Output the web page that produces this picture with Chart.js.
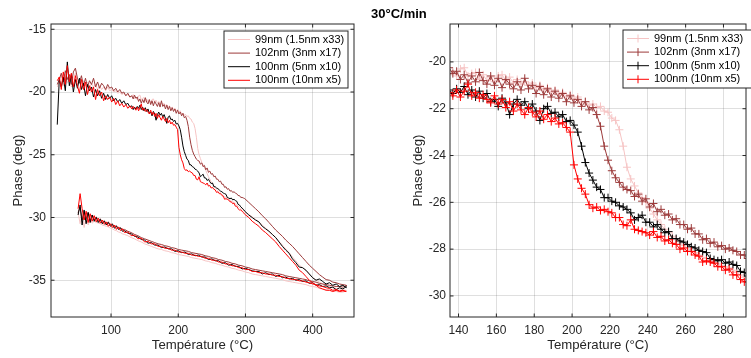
<!DOCTYPE html>
<html>
<head>
<meta charset="utf-8">
<script src="https://cdn.jsdelivr.net/npm/chart.js@4/dist/chart.umd.min.js"></script>
<style>
  html, body { margin: 0; padding: 0; background: #fff; overflow: hidden; }
  #wrap { position: relative; width: 751px; height: 358px; background: #fff; }
  #title { position: absolute; left: 371px; top: 6px; font: bold 13px "Liberation Sans", Arial, sans-serif; line-height: 16px; color: #000; z-index: 2; white-space: nowrap; }
  .pane { position: absolute; top: 0; height: 358px; }
</style>
</head>
<body>
<div id="wrap">
  <div id="title">30°C/min</div>
  <div class="pane" style="left:0;width:380px"><canvas id="left-chart" width="380" height="358"></canvas></div>
  <div class="pane" style="left:380px;width:371px"><canvas id="right-chart" width="371" height="358"></canvas></div>
</div>
<script>
// heating run (°C)
const HEAT_T = [
  20, 23, 26, 29, 32, 35, 38, 41, 44, 47,
  50, 53, 56, 59, 62, 65, 68, 71, 74, 77,
  80, 83, 86, 89, 92, 95, 98, 101, 104, 107,
  110, 113, 116, 119, 122, 125, 128,
  131, 133, 135, 137, 139, 141, 143, 145, 147, 149,
  151, 153, 155, 157, 159, 161, 163, 165, 167, 169,
  171, 173, 175, 177, 179, 181, 183, 185, 187, 189,
  191, 193, 195, 197, 199, 201, 203, 205, 207, 209,
  211, 213, 215, 217, 219, 221, 223, 225, 227, 229,
  231, 233, 235, 237, 239, 241, 243, 245, 247, 249,
  251, 253, 255, 257, 259, 261, 263, 265, 267, 269,
  271, 273, 275, 277, 279, 281, 283, 285, 287, 289,
  291, 293, 295, 297, 299,
  305, 310, 315, 320, 325, 330, 335, 340, 345, 350,
  355, 360, 365, 370, 375, 380, 385, 390, 395, 400,
  405, 410, 415, 420, 425, 430, 435, 440, 445, 450
];

// cooling run (°C)
const COOL_T = [
  450, 445, 440, 435, 430, 425, 420, 415, 410, 405,
  400, 395, 390, 385, 380, 375, 370, 365, 360, 355,
  350, 345, 340, 335, 330, 325, 320, 315, 310, 305,
  300, 295, 290, 285, 280, 275, 270, 265, 260, 255,
  250, 245, 240, 235, 230, 225, 220, 215, 210, 205,
  200, 195, 190, 185, 180, 175, 170, 165, 160, 155,
  150, 145, 140, 135, 130, 125, 120,
  117, 114, 111, 108, 105, 102, 99, 96, 93, 90,
  87, 84, 81, 78, 75, 72, 69, 66, 63, 60,
  57, 54, 51
];

const PINK_HEAT = [
  -19.6, -19.2, -18.7, -19.5, -18.6, -19.3, -18.8, -19.6, -18.9, -18.5,
  -19.2, -19.0, -19.6, -19.1, -19.5, -19.2, -19.7, -19.3, -19.6, -19.4,
  -19.8, -19.5, -19.8, -19.6, -19.9, -19.6, -19.9, -19.8, -20.0, -19.9,
  -20.1, -20.0, -20.2, -20.1, -20.3, -20.2, -20.4,
  -20.35, -20.2, -20.55, -20.4, -20.6, -20.3, -20.25, -20.6, -20.5, -20.45,
  -20.75, -20.55, -20.8, -20.65, -20.85, -20.6, -20.55, -20.8, -20.65, -20.9,
  -20.75, -20.95, -20.85, -21.0, -20.9, -21.1, -21.0, -21.2, -21.1, -21.3,
  -21.2, -21.4, -21.3, -21.5, -21.4, -21.6, -21.5, -21.75, -21.7, -21.85,
  -21.8, -21.95, -21.9, -22.1, -22.15, -22.4, -22.5, -22.9, -23.6, -24.5,
  -25.0, -25.3, -25.6, -25.8, -26.0, -26.25, -26.5, -26.75, -26.95, -27.15,
  -27.3, -27.45, -27.6, -27.75, -27.85, -27.95, -28.05, -28.15, -28.25, -28.35,
  -28.4, -28.45, -28.55, -28.6, -28.7, -28.75, -28.8, -28.9, -29.0, -29.1,
  -29.2, -29.3, -29.35, -29.45, -29.55,
  -29.75, -29.95, -30.15, -30.35, -30.6, -30.85, -31.1, -31.35, -31.6, -31.9,
  -32.2, -32.5, -32.8, -33.15, -33.45, -33.8, -34.0, -34.25, -34.55, -34.8,
  -35.0, -35.15, -35.3, -35.4, -35.5, -35.6, -35.65, -35.7, -35.75, -35.8
];
const PINK_COOL = [
  -35.85, -35.95, -35.95, -35.9, -35.85, -35.8, -35.75, -35.7, -35.65, -35.55,
  -35.5, -35.45, -35.35, -35.3, -35.25, -35.2, -35.15, -35.1, -35.05, -34.95,
  -34.9, -34.85, -34.8, -34.75, -34.7, -34.65, -34.6, -34.55, -34.5, -34.4,
  -34.35, -34.25, -34.2, -34.1, -34.05, -33.95, -33.9, -33.8, -33.75, -33.65,
  -33.6, -33.5, -33.45, -33.35, -33.3, -33.25, -33.2, -33.1, -33.05, -33.0,
  -32.95, -32.85, -32.8, -32.7, -32.65, -32.55, -32.5, -32.4, -32.3, -32.2,
  -32.1, -31.95, -31.85, -31.7, -31.6, -31.45, -31.35,
  -31.3, -31.2, -31.15, -31.05, -31.0, -30.9, -30.85, -30.75, -30.7, -30.65,
  -30.6, -30.5, -30.45, -30.4, -30.3, -30.45, -30.1, -30.6, -29.9, -30.8,
  -29.7, -30.5, -29.6
];

const DARKRED_HEAT = [
  -19.4, -19.0, -18.5, -19.2, -18.3, -19.0, -18.6, -19.4, -18.4, -18.1,
  -18.9, -19.3, -18.7, -19.5, -18.9, -19.6, -19.1, -19.4, -18.9, -19.6,
  -19.2, -19.7, -19.3, -19.5, -19.8, -19.4, -19.7, -19.6, -19.9, -19.7,
  -20.0, -19.8, -20.1, -20.0, -20.3, -20.1, -20.4,
  -20.3, -20.55, -20.25, -20.5, -20.4, -20.75, -20.55, -20.9, -20.6, -20.85,
  -20.45, -20.8, -20.95, -20.6, -21.0, -20.7, -21.1, -20.75, -20.95, -21.15,
  -20.85, -21.2, -20.7, -21.15, -21.0, -21.35, -21.05, -21.4, -21.15, -21.5,
  -21.25, -21.55, -21.35, -21.7, -21.45, -21.75, -21.6, -21.9, -21.7, -22.05,
  -21.95, -22.25, -22.75, -23.6, -24.2, -24.65, -24.95, -25.15, -25.35, -25.45,
  -25.5, -25.75, -25.65, -25.95, -25.85, -26.2, -26.05, -26.4, -26.3, -26.55,
  -26.5, -26.75, -26.7, -26.95, -26.95, -27.15, -27.1, -27.35, -27.35, -27.6,
  -27.55, -27.75, -27.7, -27.9, -27.85, -28.0, -27.95, -28.05, -28.1, -28.25,
  -28.25, -28.4, -28.4, -28.45, -28.5,
  -28.8, -29.05, -29.3, -29.55, -29.85, -30.1, -30.4, -30.7, -31.0, -31.25,
  -31.5, -31.8, -32.05, -32.3, -32.6, -32.9, -33.2, -33.5, -33.8, -34.05,
  -34.3, -34.55, -34.75, -34.95, -35.0, -35.15, -35.2, -35.3, -35.35, -35.4
];
const DARKRED_COOL = [
  -35.45, -35.55, -35.5, -35.5, -35.45, -35.4, -35.35, -35.3, -35.25, -35.15,
  -35.1, -35.05, -34.95, -34.9, -34.85, -34.8, -34.75, -34.7, -34.65, -34.55,
  -34.5, -34.45, -34.4, -34.35, -34.3, -34.25, -34.2, -34.15, -34.1, -34.0,
  -33.95, -33.85, -33.8, -33.7, -33.65, -33.55, -33.5, -33.4, -33.35, -33.25,
  -33.2, -33.1, -33.05, -32.95, -32.9, -32.85, -32.8, -32.7, -32.65, -32.6,
  -32.55, -32.45, -32.4, -32.3, -32.25, -32.15, -32.1, -32.0, -31.9, -31.8,
  -31.7, -31.6, -31.45, -31.35, -31.2, -31.1, -30.95,
  -30.95, -30.8, -30.85, -30.65, -30.75, -30.5, -30.6, -30.35, -30.5, -30.25,
  -30.4, -30.1, -30.3, -29.95, -30.2, -29.8, -30.25, -29.6, -30.1, -29.5,
  -30.2, -29.2, -29.6
];

const BLACK_HEAT = [
  -22.6, -19.0, -19.6, -18.8, -19.9, -17.6, -19.5, -18.6, -20.0, -19.0,
  -19.7, -18.9, -19.8, -19.3, -20.3, -19.4, -19.9, -19.6, -20.4, -19.8,
  -20.3, -19.9, -20.5, -20.1, -20.6, -20.2, -20.5, -20.3, -20.7, -20.5,
  -20.8, -20.6, -20.9, -20.7, -21.0, -20.9, -21.2,
  -21.1, -21.4, -21.2, -21.35, -21.15, -21.3, -21.05, -21.4, -21.2, -21.5,
  -21.25, -21.55, -21.35, -21.7, -21.6, -21.9, -21.55, -21.75, -22.25, -21.8,
  -21.6, -21.85, -21.7, -22.0, -21.8, -22.1, -22.5, -22.0, -21.9, -22.2,
  -22.15, -22.35, -22.25, -22.55, -22.5, -22.7, -23.0, -23.6, -24.3, -24.75,
  -25.05, -25.35, -25.45, -25.8, -25.8, -25.95, -26.0, -26.15, -26.2, -26.3,
  -26.45, -26.75, -26.65, -26.55, -26.85, -26.85, -27.05, -26.95, -27.15, -27.3,
  -27.25, -27.55, -27.55, -27.65, -27.7, -27.8, -27.9, -27.95, -28.05, -28.1,
  -28.15, -28.4, -28.45, -28.5, -28.45, -28.6, -28.55, -28.65, -28.7, -28.95,
  -29.0, -29.15, -29.25, -29.35, -29.5,
  -29.8, -30.0, -30.2, -30.35, -30.7, -30.9, -31.1, -31.35, -31.6, -31.95,
  -32.3, -32.6, -32.85, -33.3, -33.6, -33.95, -34.0, -34.2, -34.5, -34.8,
  -35.0, -34.9, -35.1, -35.3, -35.2, -35.4, -35.3, -35.5, -35.4, -35.6
];
const BLACK_COOL = [
  -35.5, -35.7, -35.6, -35.75, -35.55, -35.6, -35.45, -35.5, -35.35, -35.4,
  -35.2, -35.25, -35.05, -35.1, -34.95, -35.0, -34.85, -34.9, -34.75, -34.8,
  -34.6, -34.7, -34.5, -34.55, -34.4, -34.5, -34.3, -34.3, -34.25, -34.15,
  -34.05, -34.1, -33.9, -33.9, -33.75, -33.8, -33.6, -33.65, -33.45, -33.45,
  -33.3, -33.35, -33.15, -33.15, -33.0, -33.05, -32.9, -32.95, -32.75, -32.8,
  -32.65, -32.7, -32.5, -32.5, -32.35, -32.4, -32.2, -32.2, -32.0, -32.05,
  -31.8, -31.75, -31.55, -31.5, -31.3, -31.25, -31.05,
  -31.1, -30.85, -30.95, -30.7, -30.85, -30.55, -30.7, -30.4, -30.6, -30.3,
  -30.5, -30.15, -30.4, -30.0, -30.3, -29.8, -30.4, -29.6, -30.5, -29.4,
  -30.6, -29.0, -29.8
];

const RED_HEAT = [
  -19.1, -18.8, -19.8, -18.4, -19.4, -17.9, -19.2, -18.5, -19.6, -18.7,
  -19.5, -20.1, -19.0, -19.8, -19.2, -20.2, -19.5, -20.0, -19.6, -20.6,
  -19.8, -20.3, -20.0, -20.7, -20.3, -20.6, -20.4, -20.8, -20.5, -21.0,
  -20.7, -21.1, -20.9, -21.2, -21.0, -21.3, -21.1,
  -21.35, -21.15, -21.3, -21.45, -21.2, -21.5, -21.25, -20.95, -21.45, -21.3,
  -21.55, -21.4, -21.6, -21.75, -21.45, -21.8, -21.6, -21.95, -21.7, -22.1,
  -21.8, -22.05, -22.25, -21.95, -22.15, -22.35, -22.1, -22.45, -22.25, -22.55,
  -22.4, -22.65, -22.6, -22.8, -23.0, -24.4, -25.0, -25.4, -25.65, -26.1,
  -26.25, -26.2, -26.35, -26.3, -26.4, -26.45, -26.65, -26.65, -26.95, -27.0,
  -26.75, -27.15, -27.2, -27.25, -27.3, -27.4, -27.25, -27.5, -27.45, -27.65,
  -27.6, -27.75, -27.8, -28.0, -27.95, -28.1, -28.1, -28.25, -28.3, -28.55,
  -28.5, -28.55, -28.6, -28.75, -28.75, -28.9, -28.85, -29.1, -29.1, -29.3,
  -29.4, -29.4, -29.5, -29.6, -29.75,
  -30.0, -30.3, -30.5, -30.7, -31.0, -31.2, -31.45, -31.7, -31.95, -32.3,
  -32.6, -32.9, -33.2, -33.5, -33.8, -34.2, -34.4, -34.7, -35.0, -35.2,
  -35.4, -35.6, -35.7, -35.8, -35.8, -35.9, -35.8, -35.9, -35.85, -35.9
];
const RED_COOL = [
  -35.9, -35.8, -35.85, -35.75, -35.8, -35.65, -35.6, -35.5, -35.45, -35.35,
  -35.3, -35.2, -35.15, -35.05, -35.05, -34.95, -34.95, -34.85, -34.85, -34.7,
  -34.7, -34.6, -34.6, -34.5, -34.5, -34.4, -34.4, -34.3, -34.3, -34.15,
  -34.15, -34.0, -34.0, -33.85, -33.85, -33.7, -33.7, -33.55, -33.55, -33.4,
  -33.4, -33.25, -33.25, -33.1, -33.1, -33.0, -33.0, -32.85, -32.85, -32.75,
  -32.75, -32.6, -32.6, -32.45, -32.45, -32.3, -32.3, -32.1, -32.1, -31.9,
  -31.95, -31.65, -31.7, -31.4, -31.45, -31.15, -31.2,
  -30.9, -31.05, -30.75, -30.95, -30.6, -30.8, -30.5, -30.7, -30.35, -30.55,
  -30.2, -30.45, -30.05, -30.35, -29.85, -30.3, -29.7, -30.4, -29.5, -30.2,
  -29.3, -28.1, -29.3
];

const SERIES_LABELS = ["99nm (1.5nm x33)", "102nm (3nm x17)", "100nm (5nm x10)", "100nm (10nm x5)"];
const SERIES_COLORS = ["#f6c4c4", "#9c3a3a", "#000000", "#ff0000"];
const SERIES_HEAT = [PINK_HEAT, DARKRED_HEAT, BLACK_HEAT, RED_HEAT];
const SERIES_COOL = [PINK_COOL, DARKRED_COOL, BLACK_COOL, RED_COOL];

const LEFT_X_TICKS = [100, 200, 300, 400];
const LEFT_Y_TICKS = [-35, -30, -25, -20, -15];
const RIGHT_X_TICKS = [140, 160, 180, 200, 220, 240, 260, 280];
const RIGHT_Y_TICKS = [-30, -28, -26, -24, -22, -20];

const FONT = "'Liberation Sans', Arial, Helvetica, sans-serif";
const AXIS_COLOR = "#262626";
const GRID_COLOR = "rgba(38, 38, 38, 0.15)";

function loopPoints(i) {
  const heat = HEAT_T.map((t, k) => ({ x: t, y: SERIES_HEAT[i][k] }));
  const cool = COOL_T.map((t, k) => ({ x: t, y: SERIES_COOL[i][k] }));
  return heat.concat(cool);
}

function buildDatasets(withMarkers) {
  return SERIES_LABELS.map((label, i) => ({
    label,
    data: loopPoints(i),
    borderColor: SERIES_COLORS[i],
    backgroundColor: SERIES_COLORS[i],
    borderWidth: 1,
    pointStyle: "cross",
    pointRadius: withMarkers ? 4 : 0,
    pointBorderWidth: 1,
    pointBorderColor: SERIES_COLORS[i],
    tension: 0,
    fill: false,
    order: SERIES_LABELS.length - i,
  }));
}

// MATLAB-like box with inward ticks on all four sides
const boxFrame = {
  id: "boxFrame",
  afterDraw(chart) {
    const { ctx, chartArea: a, scales } = chart;
    const len = 3.5;
    ctx.save();
    ctx.strokeStyle = AXIS_COLOR;
    ctx.lineWidth = 1;
    ctx.beginPath();
    for (const t of scales.x.ticks) {
      const px = scales.x.getPixelForValue(t.value);
      ctx.moveTo(px, a.bottom);
      ctx.lineTo(px, a.bottom - len);
      ctx.moveTo(px, a.top);
      ctx.lineTo(px, a.top + len);
    }
    for (const t of scales.y.ticks) {
      const py = scales.y.getPixelForValue(t.value);
      ctx.moveTo(a.left, py);
      ctx.lineTo(a.left + len, py);
      ctx.moveTo(a.right, py);
      ctx.lineTo(a.right - len, py);
    }
    ctx.stroke();
    ctx.strokeRect(a.left, a.top, a.right - a.left, a.bottom - a.top);
    ctx.restore();
  },
};

function boxLegend(place, withMarkers) {
  return {
    id: "boxLegend",
    afterDraw(chart) {
      const { ctx, chartArea: a } = chart;
      const box = place(a);
      ctx.save();
      ctx.fillStyle = "#fff";
      ctx.fillRect(box.x, box.y, box.w, box.h);
      ctx.strokeStyle = AXIS_COLOR;
      ctx.lineWidth = 1;
      ctx.strokeRect(box.x, box.y, box.w, box.h);
      ctx.font = "11px " + FONT;
      ctx.textBaseline = "middle";
      SERIES_LABELS.forEach((label, i) => {
        const y = box.y + 8.5 + i * 13.6;
        ctx.strokeStyle = SERIES_COLORS[i];
        ctx.beginPath();
        ctx.moveTo(box.x + 4, y);
        ctx.lineTo(box.x + 26, y);
        if (withMarkers) {
          ctx.moveTo(box.x + 15, y - 4);
          ctx.lineTo(box.x + 15, y + 4);
        }
        ctx.stroke();
        ctx.fillStyle = "#000";
        ctx.fillText(label, box.x + 31, y);
      });
      ctx.restore();
    },
  };
}

function makeChart(canvasId, cfg) {
  const tickFont = { family: FONT, size: 12 };
  const titleFont = { family: FONT, size: 13.2 };
  return new Chart(document.getElementById(canvasId), {
    type: "line",
    data: { datasets: buildDatasets(cfg.markers) },
    options: {
      responsive: false,
      animation: false,
      events: [],
      devicePixelRatio: 1,
      layout: { padding: { left: 0, right: cfg.padRight, top: 24, bottom: 0 } },
      plugins: { legend: { display: false }, tooltip: { enabled: false }, title: { display: false } },
      scales: {
        x: {
          type: "linear",
          position: "bottom",
          min: cfg.xMin,
          max: cfg.xMax,
          afterBuildTicks: (scale) => { scale.ticks = cfg.xTicks.map((v) => ({ value: v })); },
          afterFit: (scale) => { scale.height = 41; },
          grid: { color: GRID_COLOR, drawTicks: false, lineWidth: 1 },
          border: { display: false },
          ticks: { color: AXIS_COLOR, font: tickFont, padding: 6, maxRotation: 0, autoSkip: false },
          title: { display: true, text: "Température (°C)", color: AXIS_COLOR, font: titleFont, padding: { top: 0, bottom: 5 } },
        },
        y: {
          type: "linear",
          min: cfg.yMin,
          max: cfg.yMax,
          afterBuildTicks: (scale) => { scale.ticks = cfg.yTicks.map((v) => ({ value: v })); },
          afterFit: (scale) => { scale.width = cfg.yWidth; },
          grid: { color: GRID_COLOR, drawTicks: false, lineWidth: 1 },
          border: { display: false },
          ticks: { color: AXIS_COLOR, font: tickFont, padding: cfg.yTickPad, autoSkip: false },
          title: { display: true, text: "Phase (deg)", color: AXIS_COLOR, font: titleFont, padding: { top: cfg.yTitlePad, bottom: 0 } },
        },
      },
    },
    plugins: [boxFrame, boxLegend(cfg.legendPlace, cfg.markers)],
  });
}

makeChart("left-chart", {
  markers: false,
  xMin: 10.7, xMax: 461.5, yMin: -37.93, yMax: -14.58,
  xTicks: LEFT_X_TICKS, yTicks: LEFT_Y_TICKS,
  yWidth: 51, yTickPad: 5, yTitlePad: 10, padRight: 26,
  legendPlace: (a) => ({ x: a.right - 130, y: a.top + 7, w: 124, h: 57 }),
});

makeChart("right-chart", {
  markers: true,
  xMin: 135.5, xMax: 291.9, yMin: -30.9, yMax: -18.38,
  xTicks: RIGHT_X_TICKS, yTicks: RIGHT_Y_TICKS,
  yWidth: 70, yTickPad: 4, yTitlePad: 30, padRight: 1,
  legendPlace: (a) => ({ x: a.left + 173, y: a.top + 6, w: 135, h: 58 }),
});
</script>
</body>
</html>
